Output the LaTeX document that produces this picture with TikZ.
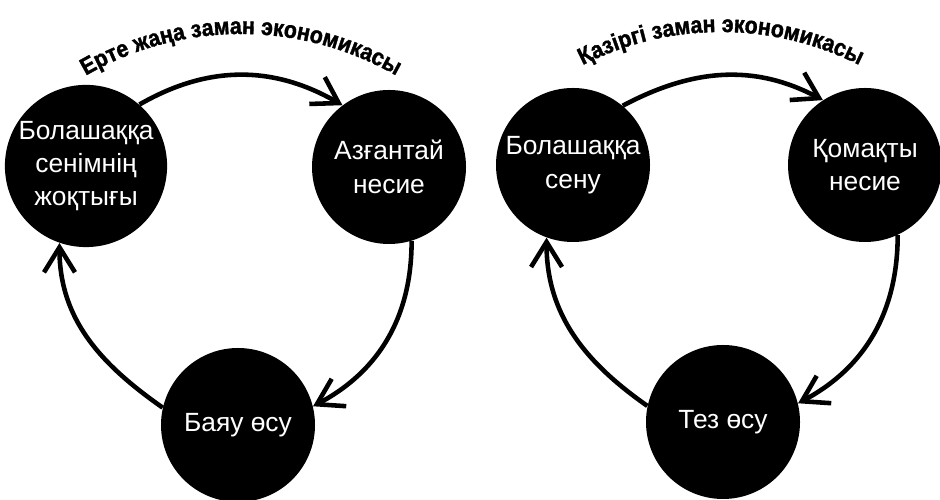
\documentclass[tikz,border=0pt]{standalone}
\usepackage{fontspec}
\setmainfont{Liberation Sans}
\newfontfamily\heavyfamily[FakeStretch=0.9, FakeBold=1.5]{Liberation Sans Bold}
\usepackage{tikz}
\usetikzlibrary{arrows.meta}
\usetikzlibrary{decorations.text}
\newcommand{\bubblefont}{\fontsize{15}{19}\selectfont}
\newcommand{\titlefont}{\heavyfamily\fontsize{13.5}{15}\selectfont}
\tikzset{
	bubble/.style={circle, fill=black, minimum size=3.08cm, inner sep=0pt, text=white, align=center, font=\bubblefont},
	cyclearrow/.style={line width=2.6pt, -{Straight Barb[length=5mm, width=6.2mm]}}
}
\begin{document}
\begin{tikzpicture}
					\useasboundingbox (0,0) rectangle (18.8,10);
					\node[bubble] (early1) at (1.72,6.68) {Болашаққа\\сенімнің\\жоқтығы};
					\node[bubble] (early2) at (7.78,6.66) {Азғантай\\несие};
					\node[bubble] (early3) at (4.76,1.50) {Баяу өсу};
					\draw[cyclearrow] (early1.49) to[out=30, in=150] (early2.127);
					\draw[cyclearrow] (early2.-73) to[out=-90, in=28] (early3.14);
					\draw[cyclearrow] (early3.167) to[out=145, in=-90] (early1.-109);
					\path[decorate, decoration={text along path, text align=center, text={|\titlefont|Ерте жаңа заман экономикасы}}]
						([shift={(145:6.2)}]4.82,3.12) arc[start angle=145, end angle=35, radius=6.2];
					\node[bubble] (modern1) at (11.46,6.70) {Болашаққа\\сену};
					\node[bubble] (modern2) at (17.30,6.70) {Қомақты\\несие};
					\node[bubble] (modern3) at (14.46,1.56) {Тез өсу};
					\draw[cyclearrow] (modern1.50) to[out=28, in=152] (modern2.123);
					\draw[cyclearrow] (modern2.-65) to[out=-90, in=28] (modern3.14);
					\draw[cyclearrow] (modern3.168) to[out=145, in=-90] (modern1.-110);
					\path[decorate, decoration={text along path, text align=center, text={|\titlefont|Қазіргі заман экономикасы}}]
						([shift={(145:6.1)}]14.42,3.26) arc[start angle=145, end angle=35, radius=6.1];
				\end{tikzpicture}
\end{document}
